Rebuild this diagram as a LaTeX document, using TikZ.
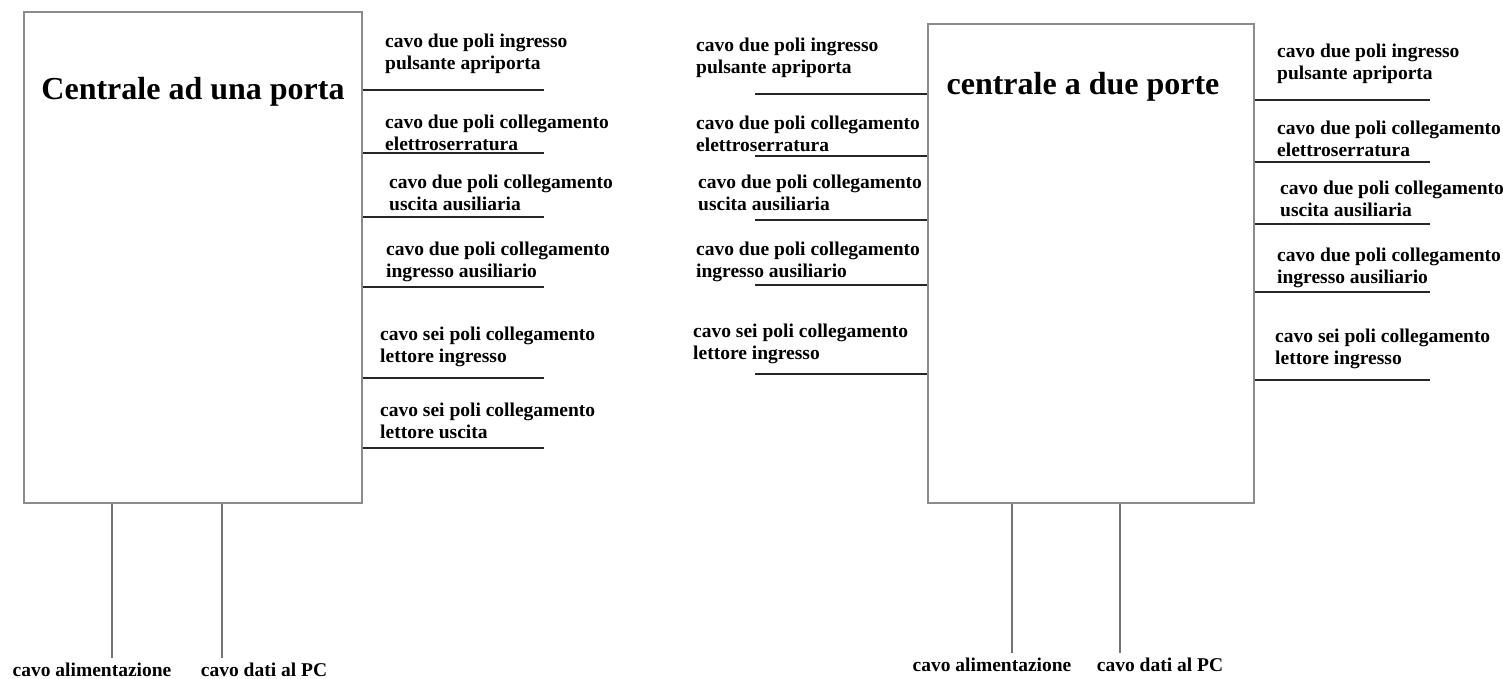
\documentclass[tikz,border=0pt]{standalone}
\usepackage{fontspec}
\setmainfont{Liberation Serif}
\begin{document}
\begin{tikzpicture}[x=1bp,y=-1bp,
  box/.style={draw=black!45,line width=1.6bp,inner sep=0pt,anchor=north west},
  wire/.style={draw=black!85,line width=1.8bp},
  vwire/.style={draw=black!55,line width=1.8bp},
  lab/.style={inner sep=0pt,anchor=west,align=left,font=\fontsize{19.5bp}{22bp}\selectfont\bfseries},
  blab/.style={inner sep=0pt,anchor=base,font=\fontsize{19.5bp}{22bp}\selectfont\bfseries},
  ttl/.style={inner sep=0pt,anchor=base,font=\fontsize{32bp}{36bp}\selectfont\bfseries}]
\useasboundingbox (0,0) rectangle (1503,679);
% ---------- left unit ----------
\node[box,minimum width=338bp,minimum height=491bp] (A) at (23,11) {};
\node[ttl] (At) at (193,100) {Centrale ad una porta};
\foreach \i/\ly/\lx/\cy/\txt in {
  1/90/385/53.5/{cavo due poli ingresso\\pulsante apriporta},
  2/153/385/132.5/{cavo due poli collegamento\\elettroserratura},
  3/217/389/192.5/{cavo due poli collegamento\\uscita ausiliaria},
  4/287/386/261.5/{cavo due poli collegamento\\ingresso ausiliario},
  5/378/380/346.5/{cavo sei poli collegamento\\lettore ingresso},
  6/448/380/421/{cavo sei poli collegamento\\lettore uscita}}{
  \coordinate (Ae\i) at (544,\ly);
  \draw[wire] (A.east |- Ae\i) -- (Ae\i);
  \node[lab] (Al\i) at (\lx,\cy) {\txt};
}
\coordinate (Ab1) at (112,658);
\coordinate (Ab2) at (222,658);
\draw[vwire] (A.south -| Ab1) -- (Ab1);
\draw[vwire] (A.south -| Ab2) -- (Ab2);
\node[blab] (Abl1) at (92,676) {cavo alimentazione};
\node[blab] (Abl2) at (264,676) {cavo dati al PC};
% ---------- right unit ----------
\node[box,minimum width=326bp,minimum height=479bp] (B) at (927,23) {};
\node[ttl] (Bt) at (1083,95) {centrale a due porte};
\foreach \i/\ly/\lx/\cy/\txt in {
  1/94/696/58/{cavo due poli ingresso\\pulsante apriporta},
  2/156/696/134/{cavo due poli collegamento\\elettroserratura},
  3/220/698/192.5/{cavo due poli collegamento\\uscita ausiliaria},
  4/285/696/261.5/{cavo due poli collegamento\\ingresso ausiliario},
  5/374/693/343.5/{cavo sei poli collegamento\\lettore ingresso}}{
  \coordinate (Bw\i) at (755,\ly);
  \draw[wire] (B.west |- Bw\i) -- (Bw\i);
  \node[lab] (Bwl\i) at (\lx,\cy) {\txt};
}
\foreach \i/\ly/\lx/\cy/\txt in {
  1/100/1277/63.5/{cavo due poli ingresso\\pulsante apriporta},
  2/162/1277/139/{cavo due poli collegamento\\elettroserratura},
  3/224/1280/199/{cavo due poli collegamento\\uscita ausiliaria},
  4/292/1277/268/{cavo due poli collegamento\\ingresso ausiliario},
  5/380/1275/349/{cavo sei poli collegamento\\lettore ingresso}}{
  \coordinate (Be\i) at (1430,\ly);
  \draw[wire] (B.east |- Be\i) -- (Be\i);
  \node[lab] (Bel\i) at (\lx,\cy) {\txt};
}
\coordinate (Bb1) at (1012,653);
\coordinate (Bb2) at (1120,653);
\draw[vwire] (B.south -| Bb1) -- (Bb1);
\draw[vwire] (B.south -| Bb2) -- (Bb2);
\node[blab] (Bbl1) at (992,671) {cavo alimentazione};
\node[blab] (Bbl2) at (1160,671) {cavo dati al PC};
\end{tikzpicture}
\end{document}
